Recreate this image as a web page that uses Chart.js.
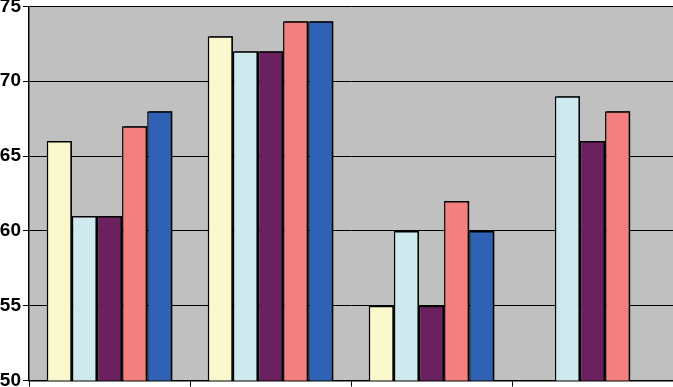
<!DOCTYPE html>
<html>
<head>
<meta charset="utf-8">
<script src="https://cdn.jsdelivr.net/npm/chart.js@4"></script>
<style>
  html, body { margin: 0; padding: 0; background: #fff; }
  #wrap { width: 673px; height: 387px; overflow: hidden; position: relative; }
  #c { position: absolute; left: 0; top: -7px; }
</style>
</head>
<body>
<div id="wrap"><canvas id="c" width="673" height="401"></canvas></div>
<script>
// ===== data =====
const categories = ['1', '2', '3', '4'];
const seriesA = [66, 73, 55, null];   // light yellow
const seriesB = [61, 72, 60, 69];     // light cyan
const seriesC = [61, 72, 55, 66];     // purple
const seriesD = [67, 74, 62, 68];     // salmon
const seriesE = [68, 74, 60, null];   // blue
const yTicks = [50, 55, 60, 65, 70, 75];

const colors = ['#FBF8CD', '#CFEAEE', '#6B2160', '#F47F7F', '#2F62B5'];

// grey plot area like the old spreadsheet charts
const plotBg = {
    id: 'plotBg',
    beforeDraw(chart) {
        const { ctx, chartArea: a } = chart;
        ctx.save();
        ctx.fillStyle = '#C0C0C0';
        ctx.fillRect(a.left, a.top, a.right - a.left, a.bottom - a.top);
        ctx.restore();
    }
};

// small hard shadow on the bars
const barShadow = {
    id: 'barShadow',
    beforeDatasetDraw(chart) {
        const ctx = chart.ctx;
        ctx.save();
        ctx.shadowColor = '#000';
        ctx.shadowOffsetX = 2;
        ctx.shadowOffsetY = -1;
        ctx.shadowBlur = 0;
    },
    afterDatasetDraw(chart) {
        chart.ctx.restore();
    }
};

const mk = (data, i) => ({
    data,
    backgroundColor: colors[i],
    borderColor: '#000',
    borderWidth: 1.5,
    borderSkipped: 'bottom'
});

new Chart(document.getElementById('c').getContext('2d'), {
    type: 'bar',
    data: {
        labels: categories,
        datasets: [seriesA, seriesB, seriesC, seriesD, seriesE].map(mk)
    },
    options: {
        responsive: false,
        animation: false,
        datasets: { bar: { categoryPercentage: 0.78, barPercentage: 1 } },
        plugins: { legend: { display: false }, tooltip: { enabled: false } },
        scales: {
            x: {
                ticks: { display: false },
                grid: { offset: true, drawOnChartArea: false, drawTicks: true, tickLength: 6, color: '#000' },
                border: { color: '#000', width: 1.5 }
            },
            y: {
                min: 50, max: 75,
                afterBuildTicks: s => { s.ticks = yTicks.map(v => ({ value: v })); },
                afterFit: s => { s.width = 29; },
                ticks: {
                    color: '#000',
                    padding: 2,
                    font: { family: "'Liberation Sans', Arial, sans-serif", size: 19, weight: 'bold' }
                },
                grid: { color: '#000', lineWidth: 1, tickLength: 6 },
                border: { color: '#000', width: 1.5 }
            }
        }
    },
    plugins: [plotBg, barShadow]
});
</script>
</body>
</html>
